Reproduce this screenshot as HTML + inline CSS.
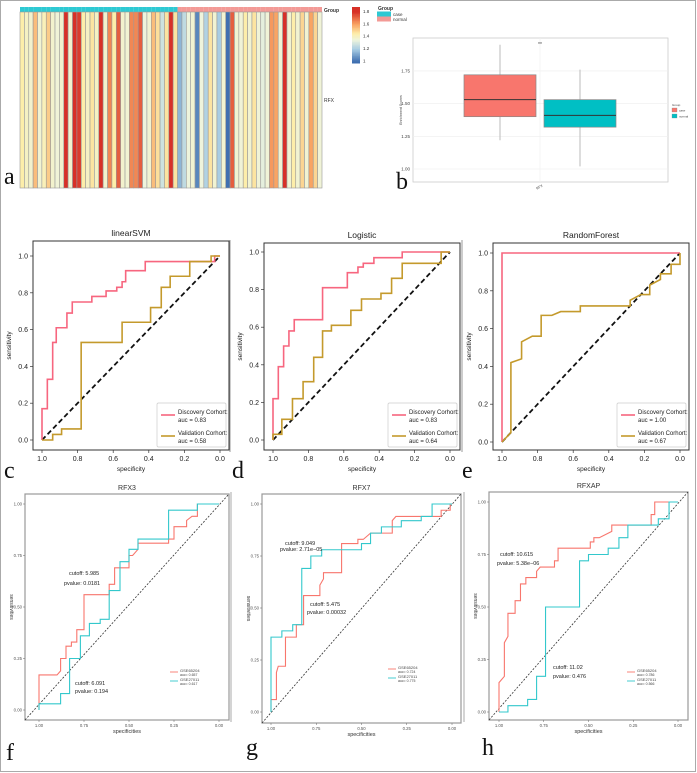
<!DOCTYPE html>
<html><head><meta charset="utf-8"><style>
html,body{margin:0;padding:0;background:#fff;}
svg{display:block;font-family:"Liberation Sans",sans-serif;}
</style></head><body>
<svg id="fig" width="697" height="773" viewBox="0 0 697 773" xmlns="http://www.w3.org/2000/svg">
<rect x="0.5" y="0.5" width="695" height="771" fill="#fff" stroke="#aaa"/>
<g id="heat"></g>
<g id="box"></g>
<g id="rocs"></g>
<line x1="230" y1="240" x2="230" y2="452" stroke="#999"/>
<line x1="462" y1="240" x2="462" y2="452" stroke="#999"/>
<line x1="231" y1="492" x2="231" y2="722" stroke="#aaa"/>
<line x1="464" y1="492" x2="464" y2="722" stroke="#aaa"/>
<g font-family="Liberation Serif,serif" font-size="24" fill="#111">
<text x="4" y="184">a</text>
<text x="396" y="189">b</text>
<text x="4" y="478">c</text>
<text x="232" y="478">d</text>
<text x="462" y="478">e</text>
<text x="6" y="760">f</text>
<text x="246" y="755">g</text>
<text x="482" y="755">h</text>
</g>
</svg>
<script>
// ---------- Heatmap data ----------
const heatValues=[1.45,1.40,1.38,1.55,1.37,1.42,1.52,1.38,1.36,1.38,1.85,1.38,1.85,1.78,1.45,1.40,1.47,1.40,1.85,1.38,1.65,1.45,1.72,1.38,1.37,1.65,1.65,1.72,1.35,1.37,1.55,1.48,1.28,1.47,1.82,1.47,
1.15,1.25,1.35,1.37,1.05,1.35,1.22,1.47,1.37,1.20,1.37,1.00,1.72,1.37,1.36,1.45,1.37,1.47,1.36,1.33,1.36,1.62,1.60,1.37,1.83,1.37,1.45,1.37,1.50,1.37,1.60,1.50,1.36];
const heatGroups=Array(36).fill('case').concat(Array(33).fill('normal'));
const heatTicks=[1,1.2,1.4,1.6,1.8];
// ---------- Boxplot data ----------
const boxGroups=['case','normal'];
const boxQ1=[1.40,1.32];
const boxMedian=[1.53,1.41];
const boxQ3=[1.72,1.53];
const boxMin=[1.22,1.02];
const boxMax=[1.95,1.76];
const boxTicks=[1.00,1.25,1.50,1.75];
// ---------- ROC c (linearSVM) ----------
const cDiscSpec=[1,1,0.97,0.97,0.94,0.94,0.92,0.92,0.86,0.86,0.83,0.83,0.72,0.72,0.64,0.64,0.58,0.58,0.55,0.55,0.53,0.53,0.42,0.42,0.03,0.03,0];
const cDiscSens=[0,0.17,0.17,0.33,0.33,0.53,0.53,0.61,0.61,0.69,0.69,0.75,0.75,0.78,0.78,0.81,0.81,0.83,0.83,0.86,0.86,0.92,0.92,0.97,0.97,1,1];
const cValSpec=[1,0.94,0.94,0.89,0.89,0.78,0.78,0.55,0.55,0.39,0.39,0.33,0.33,0.28,0.28,0.17,0.17,0.05,0.05,0];
const cValSens=[0,0,0.03,0.03,0.06,0.06,0.53,0.53,0.64,0.64,0.72,0.72,0.83,0.83,0.89,0.89,0.97,0.97,1,1];
// ---------- ROC d (Logistic) ----------
const dDiscSpec=[1,1,0.97,0.97,0.94,0.94,0.91,0.91,0.88,0.88,0.72,0.72,0.58,0.58,0.52,0.52,0.49,0.49,0.43,0.43,0.27,0.27,0];
const dDiscSens=[0,0.22,0.22,0.39,0.39,0.5,0.5,0.58,0.58,0.64,0.64,0.81,0.81,0.89,0.89,0.92,0.92,0.94,0.94,0.97,0.97,1,1];
const dValSpec=[1,1,0.95,0.95,0.89,0.89,0.83,0.83,0.77,0.77,0.72,0.72,0.67,0.67,0.56,0.56,0.5,0.5,0.39,0.39,0.33,0.33,0.27,0.27,0.05,0.05,0];
const dValSens=[0,0.03,0.03,0.11,0.11,0.22,0.22,0.31,0.31,0.44,0.44,0.58,0.58,0.61,0.61,0.69,0.69,0.75,0.75,0.78,0.78,0.86,0.86,0.94,0.94,1,1];
// ---------- ROC e (RandomForest) ----------
const eDiscSpec=[1,1,0];
const eDiscSens=[0,1,1];
const eValSpec=[1,0.95,0.95,0.89,0.89,0.83,0.78,0.78,0.72,0.67,0.56,0.56,0.28,0.28,0.22,0.17,0.17,0.11,0.11,0.05,0.05,0,0];
const eValSens=[0,0.05,0.42,0.44,0.53,0.56,0.56,0.67,0.67,0.69,0.69,0.72,0.72,0.75,0.78,0.78,0.83,0.86,0.89,0.89,0.94,0.94,1];
// ---------- ROC f (RFX3) ----------
const fRedSpec=[1,1,0.9,0.88,0.88,0.85,0.85,0.82,0.82,0.79,0.79,0.75,0.75,0.61,0.61,0.58,0.58,0.5,0.5,0.48,0.45,0.45,0.28,0.28,0.25,0.25,0.18,0.18,0.15,0.12,0.12,0];
const fRedSens=[0,0.17,0.17,0.19,0.25,0.25,0.31,0.31,0.33,0.33,0.39,0.39,0.56,0.56,0.61,0.61,0.69,0.69,0.75,0.75,0.78,0.81,0.81,0.83,0.83,0.89,0.89,0.92,0.94,0.94,1,1];
const fCyanSpec=[1,1,0.88,0.88,0.83,0.83,0.77,0.77,0.72,0.72,0.66,0.66,0.61,0.61,0.55,0.55,0.5,0.5,0.45,0.45,0.28,0.28,0.12,0.12,0];
const fCyanSens=[0,0.03,0.03,0.08,0.08,0.25,0.25,0.36,0.36,0.42,0.42,0.44,0.44,0.58,0.58,0.72,0.72,0.78,0.78,0.83,0.83,0.97,0.97,1,1];
// ---------- ROC g (RFX7) ----------
const gRedSpec=[1,1,0.97,0.97,0.96,0.92,0.92,0.86,0.86,0.82,0.82,0.73,0.73,0.71,0.71,0.61,0.61,0.52,0.52,0.49,0.45,0.33,0.33,0.31,0.06,0.06,0.01,0.01];
const gRedSens=[0,0.06,0.06,0.19,0.22,0.22,0.36,0.36,0.42,0.42,0.56,0.56,0.61,0.64,0.67,0.67,0.81,0.81,0.83,0.83,0.86,0.86,0.92,0.94,0.94,0.97,0.97,1];
const gCyanSpec=[1,1,0.94,0.94,0.88,0.88,0.83,0.83,0.78,0.78,0.72,0.72,0.5,0.5,0.45,0.45,0.39,0.39,0.28,0.28,0.17,0.17,0.11,0.11,0];
const gCyanSens=[0,0.36,0.36,0.39,0.39,0.42,0.42,0.69,0.69,0.75,0.75,0.78,0.78,0.81,0.81,0.86,0.86,0.89,0.89,0.92,0.92,0.94,0.94,1,1];
// ---------- ROC h (RFXAP) ----------
const hRedSpec=[1,1,0.97,0.97,0.95,0.95,0.91,0.91,0.88,0.88,0.85,0.85,0.79,0.79,0.77,0.69,0.69,0.67,0.67,0.49,0.49,0.47,0.47,0.44,0.37,0.37,0.15,0.15,0.13,0.13,0.05];
const hRedSens=[0,0.14,0.17,0.33,0.36,0.47,0.47,0.53,0.53,0.61,0.61,0.64,0.64,0.67,0.69,0.69,0.72,0.72,0.78,0.78,0.81,0.81,0.83,0.83,0.86,0.89,0.89,0.94,0.94,1,1];
const hCyanSpec=[1,0.95,0.95,0.84,0.84,0.79,0.79,0.74,0.74,0.55,0.55,0.5,0.5,0.39,0.39,0.33,0.33,0.28,0.28,0.11,0.11,0.05,0.05,0];
const hCyanSens=[0,0,0.03,0.03,0.06,0.06,0.17,0.17,0.5,0.5,0.72,0.72,0.75,0.75,0.78,0.78,0.83,0.83,0.89,0.89,0.92,0.92,1,1];

const NS='http://www.w3.org/2000/svg';
function mk(parent,tag,attrs,text){const e=document.createElementNS(NS,tag);for(const k in attrs)e.setAttribute(k,attrs[k]);if(text!==undefined)e.textContent=text;parent.appendChild(e);return e;}

// ---------- Heatmap ----------
(function(){
  const g=document.getElementById('heat');
  const x0=20,x1=322,yTop=12,yBot=188;
  const stops=[[1.0,[63,111,176]],[1.2,[168,205,227]],[1.35,[238,244,220]],[1.45,[253,238,170]],[1.6,[249,164,99]],[1.8,[215,48,39]]];
  function col(v){if(v<=stops[0][0])return 'rgb('+stops[0][1]+')';for(let i=1;i<stops.length;i++){if(v<=stops[i][0]){const t=(v-stops[i-1][0])/(stops[i][0]-stops[i-1][0]);const a=stops[i-1][1],b=stops[i][1];return 'rgb('+a.map((c,j)=>Math.round(c+(b[j]-c)*t)).join(',')+')';}}return 'rgb('+stops[stops.length-1][1]+')';}
  const w=(x1-x0)/heatValues.length;
  heatValues.forEach((v,i)=>{
    const gc=mk(g,'rect',{x:x0+i*w,y:7,width:w,height:5,fill:heatGroups[i]==='case'?'#2ec9d3':'#f39a96'});
    
    
    const r=mk(g,'rect',{x:x0+i*w,y:yTop,width:w,height:yBot-yTop,fill:col(v),stroke:'#9a9a9a','stroke-width':0.6});
    
    
  });
  const t1=mk(g,'text',{x:324,y:12,'font-size':5,'font-weight':'bold',fill:'#333'},'Group');
  
  
  const t2=mk(g,'text',{x:324,y:102,'font-size':5,fill:'#333'},'RFX');
  
  
  const by0=7,by1=63,vmin=0.97,vmax=1.87;
  for(let k=0;k<40;k++){const v=vmax-(vmax-vmin)*k/40;const cb=mk(g,'rect',{x:352,y:by0+(by1-by0)*k/40,width:8,height:(by1-by0)/40+0.5,fill:col(v)});
    
    }
  heatTicks.forEach(t=>{const y=by1-(t-vmin)/(vmax-vmin)*(by1-by0)+1.5;const tt=mk(g,'text',{x:363,y:y,'font-size':4.5,fill:'#333'},String(t));
    
    });
  const lg=mk(g,'text',{x:378,y:10,'font-size':5,'font-weight':'bold',fill:'#333'},'Group');
  
  
  mk(g,'rect',{x:377,y:11.5,width:14,height:5,fill:'#2ec9d3'});
  mk(g,'rect',{x:377,y:16.5,width:14,height:5,fill:'#f39a96'});
  const l1=mk(g,'text',{x:393,y:16,'font-size':4.5,fill:'#333'},'case');
  
  
  const l2=mk(g,'text',{x:393,y:21,'font-size':4.5,fill:'#333'},'normal');
  
  
})();

// ---------- Boxplot ----------
(function(){
  const g=document.getElementById('box');
  const px0=413,px1=668,py0=38,py1=182;
  const yv=v=>169-(v-1.0)/0.25*32.7;
  mk(g,'rect',{x:px0,y:py0,width:px1-px0,height:py1-py0,fill:'#fff',stroke:'#ccc','stroke-width':0.8});
  boxTicks.forEach(t=>{
    mk(g,'line',{x1:px0,x2:px1,y1:yv(t),y2:yv(t),stroke:'#eee','stroke-width':0.6});
    const tt=mk(g,'text',{x:px0-3,y:yv(t)+1.5,'font-size':4.5,'text-anchor':'end',fill:'#444'},t.toFixed(2));
    
    
  });
  mk(g,'line',{x1:540,x2:540,y1:py0,y2:py1,stroke:'#eee','stroke-width':0.6});
  const cols=['#f8766d','#00bfc4'];
  const cx=[500,580],bw=72;
  boxGroups.forEach((gr,i)=>{
    const w=mk(g,'line',{x1:cx[i],x2:cx[i],y1:yv(boxMin[i]),y2:yv(boxMax[i]),stroke:'#bbb','stroke-width':1});
    
    
    const r=mk(g,'rect',{x:cx[i]-bw/2,y:yv(boxQ3[i]),width:bw,height:yv(boxQ1[i])-yv(boxQ3[i]),fill:cols[i],stroke:'#888','stroke-width':0.7});
    
    
    const m=mk(g,'line',{x1:cx[i]-bw/2,x2:cx[i]+bw/2,y1:yv(boxMedian[i]),y2:yv(boxMedian[i]),stroke:'#333','stroke-width':1});
    
    
  });
  const s=mk(g,'text',{x:540,y:46,'font-size':5,'text-anchor':'middle',fill:'#444'},'**');
  
  
  const yl=mk(g,'text',{x:402,y:110,'font-size':3.5,'text-anchor':'middle',fill:'#444',transform:'rotate(-90 402 110)'},'Enrichment Scores');
  
  
  const xl=mk(g,'text',{x:540,y:188,'font-size':3.5,'text-anchor':'middle',fill:'#444',transform:'rotate(-30 540 188)'},'RFX');
  
  
  mk(g,'text',{x:672,y:106,'font-size':3,fill:'#444'},'Group');
  mk(g,'rect',{x:672,y:108,width:5,height:4,fill:cols[0],stroke:'#888','stroke-width':0.3});
  mk(g,'rect',{x:672,y:114,width:5,height:4,fill:cols[1],stroke:'#888','stroke-width':0.3});
  mk(g,'text',{x:679,y:111.5,'font-size':3,fill:'#444'},'case');
  mk(g,'text',{x:679,y:117.5,'font-size':3,fill:'#444'},'normal');
})();

// ---------- Matplotlib-style ROC ----------
function mplRoc(cfg){
  const g=mk(document.getElementById('rocs'),'g',{});
  
  
  const X=s=>cfg.x0+(cfg.x1-cfg.x0)*s, Y=v=>cfg.y0+(cfg.y1-cfg.y0)*v;
  mk(g,'rect',{x:cfg.fl,y:cfg.ft,width:cfg.fr-cfg.fl,height:cfg.fb-cfg.ft,fill:'#fff',stroke:'#333','stroke-width':1});
  const tt=mk(g,'text',{x:(cfg.fl+cfg.fr)/2,y:cfg.ft-5,'font-size':8.5,'text-anchor':'middle',fill:'#222'},cfg.title);
  
  
  [0,0.2,0.4,0.6,0.8,1.0].forEach(t=>{
    mk(g,'line',{x1:X(t),x2:X(t),y1:cfg.fb,y2:cfg.fb+3,stroke:'#333','stroke-width':0.7});
    const a=mk(g,'text',{x:X(t),y:cfg.fb+11,'font-size':7,'text-anchor':'middle',fill:'#222'},t.toFixed(1));
    
    
    mk(g,'line',{x1:cfg.fl-3,x2:cfg.fl,y1:Y(t),y2:Y(t),stroke:'#333','stroke-width':0.7});
    const b=mk(g,'text',{x:cfg.fl-5,y:Y(t)+2.5,'font-size':7,'text-anchor':'end',fill:'#222'},t.toFixed(1));
    
    
  });
  const xl=mk(g,'text',{x:(cfg.fl+cfg.fr)/2,y:cfg.fb+21,'font-size':6.5,'text-anchor':'middle',fill:'#222'},'specificity');
  
  
  const yx=cfg.fl-22, yy=(cfg.ft+cfg.fb)/2;
  const yl=mk(g,'text',{x:yx,y:yy,'font-size':6.5,'text-anchor':'middle',fill:'#222',transform:`rotate(-90 ${yx} ${yy})`},'sensitivity');
  
  
  const d=mk(g,'line',{x1:X(1),y1:Y(0),x2:X(0),y2:Y(1),stroke:'#111','stroke-width':1.8,'stroke-dasharray':'5,3'});
  
  
  cfg.series.forEach(s=>{
    const p=mk(g,'polyline',{points:s.spec.map((v,i)=>X(v)+','+Y(s.sens[i])).join(' '),fill:'none',stroke:s.color,'stroke-width':1.6});
    
    
  });
  const lx=cfg.fr-72, ly=cfg.fb-47;
  const lb=mk(g,'rect',{x:lx,y:ly,width:69,height:44,fill:'#fff',stroke:'#ccc','stroke-width':0.7,rx:1.5});
  
  
  cfg.series.forEach((s,i)=>{
    const oy=ly+12+i*21;
    mk(g,'line',{x1:lx+4,x2:lx+18,y1:oy,y2:oy,stroke:s.color,'stroke-width':1.6});
    const a=mk(g,'text',{x:lx+21,y:oy-1,'font-size':6,fill:'#222'},s.label);
    
    
    mk(g,'text',{x:lx+21,y:oy+7,'font-size':6,fill:'#222'},'auc = '+s.auc);
  });
}
const PINK='#f7667f',GOLD='#c49a2c';
mplRoc({name:'roc-linearsvm',title:'linearSVM',fl:33,fr:229,ft:241,fb:450,x1:42,x0:220,y0:440,y1:256,
  series:[{name:'discovery-curve',spec:cDiscSpec,sens:cDiscSens,color:PINK,label:'Discovery Corhort:',auc:'0.83'},
          {name:'validation-curve',spec:cValSpec,sens:cValSens,color:GOLD,label:'Validation Corhort:',auc:'0.58'}]});
mplRoc({name:'roc-logistic',title:'Logistic',fl:264,fr:460,ft:243,fb:450,x1:273,x0:450,y0:440,y1:252,
  series:[{name:'discovery-curve',spec:dDiscSpec,sens:dDiscSens,color:PINK,label:'Discovery Corhort:',auc:'0.83'},
          {name:'validation-curve',spec:dValSpec,sens:dValSens,color:GOLD,label:'Validation Corhort:',auc:'0.64'}]});
mplRoc({name:'roc-randomforest',title:'RandomForest',fl:493,fr:689,ft:243,fb:450,x1:502,x0:680,y0:442,y1:253,
  series:[{name:'discovery-curve',spec:eDiscSpec,sens:eDiscSens,color:PINK,label:'Discovery Corhort:',auc:'1.00'},
          {name:'validation-curve',spec:eValSpec,sens:eValSens,color:GOLD,label:'Validation Corhort:',auc:'0.67'}]});

// ---------- ggplot-style ROC ----------
function ggRoc(cfg){
  const g=mk(document.getElementById('rocs'),'g',{});
  
  
  const X=s=>cfg.x0+(cfg.x1-cfg.x0)*s, Y=v=>cfg.y0+(cfg.y1-cfg.y0)*v;
  mk(g,'rect',{x:cfg.fl,y:cfg.ft,width:cfg.fr-cfg.fl,height:cfg.fb-cfg.ft,fill:'#fff',stroke:'#999','stroke-width':1.2});
  const tt=mk(g,'text',{x:(cfg.fl+cfg.fr)/2,y:cfg.ft-4,'font-size':7,'text-anchor':'middle',fill:'#333'},cfg.title);
  
  
  [0,0.25,0.5,0.75,1].forEach(t=>{
    mk(g,'line',{x1:X(t),x2:X(t),y1:cfg.fb,y2:cfg.fb+2,stroke:'#666','stroke-width':0.5});
    const a=mk(g,'text',{x:X(t),y:cfg.fb+7,'font-size':4.3,'text-anchor':'middle',fill:'#555'},t.toFixed(2));
    
    
    mk(g,'line',{x1:cfg.fl-2,x2:cfg.fl,y1:Y(t),y2:Y(t),stroke:'#666','stroke-width':0.5});
    const b=mk(g,'text',{x:cfg.fl-3,y:Y(t)+1.5,'font-size':4.3,'text-anchor':'end',fill:'#555'},t.toFixed(2));
    
    
  });
  const xl=mk(g,'text',{x:(cfg.fl+cfg.fr)/2,y:cfg.fb+13,'font-size':5.5,'text-anchor':'middle',fill:'#333'},'specificities');
  
  
  const yx=cfg.fl-15, yy=(cfg.ft+cfg.fb)/2;
  const yl=mk(g,'text',{x:yx,y:yy,'font-size':5,'text-anchor':'middle',fill:'#333',transform:`rotate(90 ${yx} ${yy})`},'sensitivities');
  
  
  const d=mk(g,'line',{x1:cfg.fl,y1:cfg.fb,x2:cfg.fr,y2:cfg.ft,stroke:'#333','stroke-width':0.8,'stroke-dasharray':'2,1.5'});
  
  
  cfg.series.forEach(s=>{
    const p=mk(g,'polyline',{points:s.spec.map((v,i)=>X(v)+','+Y(s.sens[i])).join(' '),fill:'none',stroke:s.color,'stroke-width':1.1});
    
    
  });
  cfg.notes.forEach(n=>{
    const a=mk(g,'text',{x:n[0],y:n[1],'font-size':5.5,fill:'#222'},n[2]);
    
    
  });
  cfg.series.forEach((s,i)=>{
    const oy=cfg.ly+i*9;
    mk(g,'line',{x1:cfg.lx,x2:cfg.lx+8,y1:oy,y2:oy,stroke:s.color,'stroke-width':0.9});
    const a=mk(g,'text',{x:cfg.lx+10,y:oy,'font-size':4,fill:'#444'},s.label);
    
    
    mk(g,'text',{x:cfg.lx+10,y:oy+4,'font-size':3.5,fill:'#444'},'auc= '+s.auc);
  });
}
const RED='#f8766d',CYAN='#33c8cc';
ggRoc({name:'roc-rfx3',title:'RFX3',fl:25,fr:229,ft:494,fb:720,x1:39,x0:219,y0:710,y1:504,lx:170,ly:672,
  notes:[[69,575,'cutoff:  5.985'],[64,585,'pvalue:  0.0181'],[75,685,'cutoff:  6.091'],[75,693,'pvalue:  0.194']],
  series:[{name:'gse65204-curve',spec:fRedSpec,sens:fRedSens,color:RED,label:'GSE65204',auc:'0.657'},
          {name:'gse27011-curve',spec:fCyanSpec,sens:fCyanSens,color:CYAN,label:'GSE27011',auc:'0.617'}]});
ggRoc({name:'roc-rfx7',title:'RFX7',fl:262,fr:461,ft:494,fb:723,x1:271,x0:452,y0:712,y1:504,lx:388,ly:669,
  notes:[[285,545,'cutoff:  9.049'],[280,551,'pvalue:  2.71e\u221205'],[310,606,'cutoff:  5.475'],[307,614,'pvalue:  0.00032']],
  series:[{name:'gse65204-curve',spec:gRedSpec,sens:gRedSens,color:RED,label:'GSE65204',auc:'0.724'},
          {name:'gse27011-curve',spec:gCyanSpec,sens:gCyanSens,color:CYAN,label:'GSE27011',auc:'0.775'}]});
ggRoc({name:'roc-rfxap',title:'RFXAP',fl:489,fr:688,ft:492,fb:720,x1:499,x0:678,y0:712,y1:502,lx:627,ly:672,
  notes:[[500,556,'cutoff:  10.615'],[497,565,'pvalue:  5.38e\u221206'],[553,669,'cutoff:  11.02'],[553,678,'pvalue:  0.476']],
  series:[{name:'gse65204-curve',spec:hRedSpec,sens:hRedSens,color:RED,label:'GSE65204',auc:'0.786'},
          {name:'gse27011-curve',spec:hCyanSpec,sens:hCyanSens,color:CYAN,label:'GSE27011',auc:'0.566'}]});
</script>
</body></html>
